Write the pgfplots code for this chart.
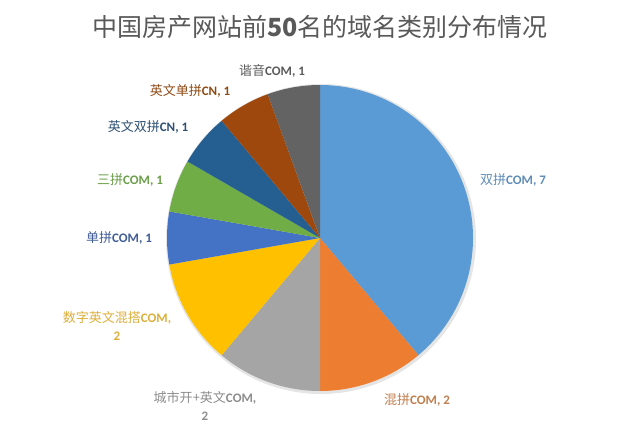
\documentclass[border=0pt]{standalone}
\usepackage{fontspec}
\setmainfont{Noto Sans CJK SC}
\newfontfamily\latin{Carlito}
\usepackage{pgfplots}
\usepackage{pgfplotstable}
\pgfplotsset{compat=1.18}

% slice colours (Office defaults)
\definecolor{cBlue}{HTML}{5B9BD5}
\definecolor{cOrange}{HTML}{ED7D31}
\definecolor{cGray}{HTML}{A5A5A5}
\definecolor{cGold}{HTML}{FFC000}
\definecolor{cBlue2}{HTML}{4472C4}
\definecolor{cGreen}{HTML}{70AD47}
\definecolor{cNavy}{HTML}{255E91}
\definecolor{cBrown}{HTML}{9E480E}
\definecolor{cDark}{HTML}{636363}
% label colours
\definecolor{tBlue}{HTML}{5F8CB6}
\definecolor{tOrange}{HTML}{C07E4E}
\definecolor{tGray}{HTML}{8C8C8C}
\definecolor{tGold}{HTML}{DDAE3A}
\definecolor{tBlue2}{HTML}{3F5C96}
\definecolor{tGreen}{HTML}{6A9E48}
\definecolor{tNavy}{HTML}{2E4F72}
\definecolor{tBrown}{HTML}{8E4A14}
\definecolor{tDark}{HTML}{5A5A5A}
\definecolor{titlegray}{HTML}{595959}

\newcommand\C[1]{{\latin\bfseries #1}}

% value and fill colour of each slice, clockwise from 12 o'clock
\pgfplotstableread{
value color
7 cBlue
2 cOrange
2 cGray
2 cGold
1 cBlue2
1 cGreen
1 cNavy
1 cBrown
1 cDark
}\piedata

\begin{document}
\begin{tikzpicture}
\begin{axis}[
    x=1bp, y=1bp,
    xmin=0, xmax=640, ymin=0, ymax=431,
    hide axis, clip=false,
]
\path[draw=none] (axis cs:0,0) rectangle (axis cs:640,431);

% total of all slices
\pgfplotstablegetrowsof{\piedata}
\pgfmathtruncatemacro\nlast{\pgfplotsretval-1}
\def\total{0}
\pgfplotsforeachungrouped \i in {0,...,\nlast}{%
  \pgfplotstablegetelem{\i}{value}\of\piedata
  \pgfmathsetmacro\total{\total+\pgfplotsretval}%
}
% soft shadow
\fill[black!10] (axis cs:321,192) circle[radius=155bp];
% slices
\def\cum{0}
\pgfplotsforeachungrouped \i in {0,...,\nlast}{%
  \pgfplotstablegetelem{\i}{value}\of\piedata \let\v\pgfplotsretval
  \pgfplotstablegetelem{\i}{color}\of\piedata \let\c\pgfplotsretval
  \pgfmathsetmacro\sa{90-360*\cum/\total}%
  \pgfmathsetmacro\cum{\cum+\v}%
  \pgfmathsetmacro\ea{90-360*\cum/\total}%
  \edef\temp{\noexpand\fill[\c] (axis cs:320,193) -- ++(\sa:153bp)
    arc[start angle=\sa, end angle=\ea, radius=153bp] -- cycle;}%
  \temp
}

% title
\node[text=titlegray, font=\fontsize{25bp}{30bp}\selectfont] at (axis cs:320,404)
  {中国房产网站前\textbf{50}名的域名类别分布情况};

% data labels
\begin{scope}[every node/.style={font=\fontsize{13bp}{18bp}\selectfont, align=center}]
\node[text=tBlue]   at (axis cs:513,251) {双拼\C{COM, 7}};
\node[text=tOrange] at (axis cs:417,31)  {混拼\C{COM, 2}};
\node[text=tGray]   at (axis cs:205,25)  {城市开+英文\C{COM,}\\\C{2}};
\node[text=tGold]   at (axis cs:117,105) {数字英文混搭\C{COM,}\\\C{2}};
\node[text=tBlue2]  at (axis cs:119,193) {单拼\C{COM, 1}};
\node[text=tGreen]  at (axis cs:130,251) {三拼\C{COM, 1}};
\node[text=tNavy]   at (axis cs:148,304) {英文双拼\C{CN, 1}};
\node[text=tBrown]  at (axis cs:190,340) {英文单拼\C{CN, 1}};
\node[text=tDark]   at (axis cs:272,360) {谐音\C{COM, 1}};
\end{scope}
\end{axis}
\end{tikzpicture}
\end{document}
